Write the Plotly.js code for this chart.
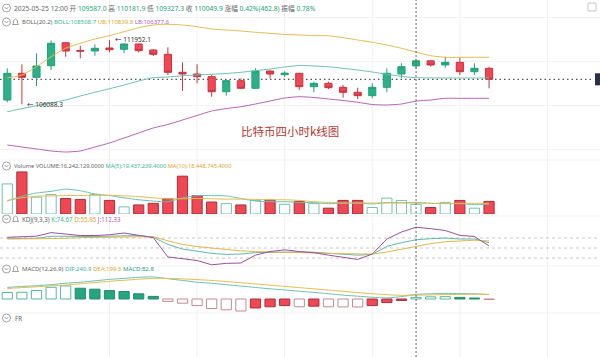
<!DOCTYPE html>
<html><head><meta charset="utf-8">
<script src="https://cdn.plot.ly/plotly-3.0.1.min.js"></script>
<style>html,body{margin:0;padding:0;background:#fff}#c{width:600px;height:357px}</style>
</head><body><div id="c"></div>
<script>
const times = ['2025-05-20 20:00','2025-05-21 00:00','2025-05-21 04:00','2025-05-21 08:00','2025-05-21 12:00','2025-05-21 16:00','2025-05-21 20:00',
'2025-05-22 00:00','2025-05-22 04:00','2025-05-22 08:00','2025-05-22 12:00','2025-05-22 16:00','2025-05-22 20:00',
'2025-05-23 00:00','2025-05-23 04:00','2025-05-23 08:00','2025-05-23 12:00','2025-05-23 16:00','2025-05-23 20:00',
'2025-05-24 00:00','2025-05-24 04:00','2025-05-24 08:00','2025-05-24 12:00','2025-05-24 16:00','2025-05-24 20:00',
'2025-05-25 00:00','2025-05-25 04:00','2025-05-25 08:00','2025-05-25 12:00','2025-05-25 16:00','2025-05-25 20:00',
'2025-05-26 00:00','2025-05-26 04:00','2025-05-26 08:00'];
const open  = [106481,108915,108551,109608,111706,111000,110949,111223,111104,111587,111040,110648,109007,108852,108606,107238,108241,107548,109125,108790,108915,107694,108004,107640,107183,106873,107640,108852,109587.0,110050,109672,109917,109061,109372];
const high  = [109372,109736,110739,111900,111750,111432,111560,111952.1,111650,111620,111131,111286,109919,109736,108761,108305,108460,109372,109200,109100,108950,108150,108150,107850,107602,108004,109372,109827,110181.9,110130,110429,110338,109827,109518];
const low   = [106271,106088.3,107757,109216,110429,110283,110520,110830,110740,110830,110493,108761,107301,108004,106782,106873,107484,107484,108460,108600,107400,107183,107484,106690,106572,106636,107183,108460,109327.3,109520,109426,108761,108761,107548];
const close = [108915,108551,109581,111651,110949,110940,111195,111068,111587,110976,110648,109007,108852,108606,107238,108241,107548,109125,108852,108930,107694,108004,107602,107183,106873,107640,108915,109518,110049.9,109672,109917,109061,109372,108368];
const bollUB = [108487,108761,109518,110430,111196,111652,112044,112345,112709,113074,113320,113384,113320,113165,112955,112864,112773,112655,112563,112454,112408,112345,112345,112162,111952,111743,111496,111196,110839.8,110521,110375,110375,110375,110375];
const bollMB = [105414,105688,105961,106207,106481,106846,107183,107511,107849,108214,108514,108578,108697,108761,108825,108897,109007,109153,109308,109490,109627,109581,109518,109372,109217,109034,108825,108640,108508.7,108500,108490,108490,108490,108490];
const bollLB = [102377,102195,102013,101830,101739,101830,102195,102560,103016,103472,103928,104247,104657,105068,105478,105706,105870,106116,106390,106663,106782,106709,106572,106435,106271,106071,106025,106116,106377.6,106481,106636,106636,106636,106636];
const volume = [50.35e6,70.38e6,28.15e6,32.48e6,25.99e6,24.36e6,32.48e6,22.74e6,11.91e6,15.16e6,17.87e6,25.45e6,63.34e6,30.86e6,20.03e6,17.32e6,15.16e6,22.74e6,23.28e6,16.24e6,21.11e6,17.32e6,9.75e6,22.74e6,22.74e6,10.83e6,26.53e6,22.74e6,16242129,10.83e6,19.49e6,22.74e6,9.75e6,21.11e6];
const volMA5 = [21.66e6,29.78e6,35.19e6,37.9e6,41.69e6,38.98e6,33.57e6,30.86e6,27.07e6,23.82e6,21.66e6,20.57e6,27.07e6,30.86e6,30.86e6,30.32e6,25.99e6,21.66e6,20.57e6,20.57e6,19.49e6,18.95e6,17.32e6,17.87e6,18.41e6,16.78e6,18.95e6,18.95e6,19437239.4,17.87e6,17.32e6,17.32e6,15.7e6,16.24e6];
const volMA10 = [22.74e6,27.07e6,29.78e6,30.32e6,30.86e6,30.86e6,31.4e6,31.4e6,30.32e6,29.24e6,27.07e6,25.45e6,25.45e6,25.99e6,25.45e6,24.9e6,24.9e6,24.36e6,23.82e6,23.82e6,22.74e6,20.57e6,19.49e6,18.41e6,18.41e6,18.41e6,18.41e6,18.41e6,18448745.4,17.87e6,17.87e6,17.87e6,17.87e6,17.87e6];
const kdjK = [78.9,78.9,78.9,85.4,84.3,83.2,84.3,85.4,87.5,87.5,82.1,60.7,46.8,39.3,33.9,30.7,31.8,36.1,37.1,39.3,38.2,37.1,33.9,31.8,28.6,30.7,55,66,74.67,78,80,77,77,66];
const kdjD = [76.8,76.8,76.8,77.9,78.9,81.1,82.1,82.1,83.2,84.3,84.3,71.4,60.7,54.3,50,44.6,41.4,39.3,37.1,37.1,36.1,36.1,33.9,32.9,31.8,31.8,38,47,55.85,63,68.8,71.5,73.3,70.9];
const kdjJ = [82.1,83.2,85.4,96.1,91.8,87.5,87.5,89.6,95,87.5,81.1,23.2,17.9,12.5,-0.4,3.9,5,28.6,39.3,44.6,39.3,36.1,28.6,23.2,15.7,31.8,77,98,112.33,108,102.4,88,84.4,56.2];
const macdDIF = [600,655,692,746,819,874,946,1019,1074,1128,1147,1056,965,874,819,746,673,600,528,473,400,346,273,200,146,91,60,125,240.9,270,290,280,270,230];
const macdDEA = [546,592,637,683,728,792,855,919,974,1028,1074,1069,1047,1010,965,910,846,783,719,655,592,528,464,400,330,275,225,190,199.5,213.6,228.9,239,245,242];
const macdHist = [340,350,440,610,680,560,510,440,390,270,135,-125,-218,-343,-498,-561,-624,-467,-405,-343,-405,-374,-405,-411,-417,-343,-187,-75,82.8,113,122,82,50,-24];
const hoverIdx = 28;

const W = 600, H = 357;
const P = x => x / W, Q = y => 1 - y / H;
const GREEN = '#26a57f', RED = '#ef4753';
const FONT = '"Noto Sans", "Noto Sans CJK SC", sans-serif';

const upVol = close.map((c, i) => c >= open[i]);
const histStyle = macdHist.map((v, i) => {
  const prev = i === 0 ? -Infinity : macdHist[i - 1];
  if (v >= 0) return v >= prev ? ['#ffffff', '#55b89a'] : [GREEN, '#1f8f6c'];
  return v < prev ? ['#ffffff', '#c48a8f'] : [RED, '#a8303a'];
});

const traces = [
  {type:'candlestick', x:times, open:open, high:high, low:low, close:close, xaxis:'x', yaxis:'y',
   increasing:{line:{color:'#22a07a', width:1}, fillcolor:'#2bb088'},
   decreasing:{line:{color:'#c8343f', width:1}, fillcolor:RED}, whiskerwidth:0, hoverinfo:'skip'},
  {type:'scatter', mode:'lines', x:times, y:bollUB, line:{color:'#e6bb55', width:1, shape:'spline', smoothing:0.6}, xaxis:'x', yaxis:'y'},
  {type:'scatter', mode:'lines', x:times, y:bollMB, line:{color:'#6cc2b0', width:1, shape:'spline', smoothing:0.6}, xaxis:'x', yaxis:'y'},
  {type:'scatter', mode:'lines', x:times, y:bollLB, line:{color:'#b862bd', width:1, shape:'spline', smoothing:0.6}, xaxis:'x', yaxis:'y'},
  {type:'bar', x:times, y:volume, width:0.7, xaxis:'x', yaxis:'y2',
   marker:{color:upVol.map(u => u ? '#ffffff' : RED), line:{color:upVol.map(u => u ? '#72c2aa' : '#a8303a'), width:1}}},
  {type:'scatter', mode:'lines', x:times, y:volMA5, line:{color:'#6cc2b0', width:1, shape:'spline', smoothing:0.6}, xaxis:'x', yaxis:'y2'},
  {type:'scatter', mode:'lines', x:times, y:volMA10, line:{color:'#e6bb55', width:1, shape:'spline', smoothing:0.6}, xaxis:'x', yaxis:'y2'},
  {type:'scatter', mode:'lines', x:times, y:kdjK, line:{color:'#5fb9a8', width:1}, xaxis:'x', yaxis:'y3'},
  {type:'scatter', mode:'lines', x:times, y:kdjD, line:{color:'#e2b651', width:1}, xaxis:'x', yaxis:'y3'},
  {type:'scatter', mode:'lines', x:times, y:kdjJ, line:{color:'#9c4f9f', width:1}, xaxis:'x', yaxis:'y3'},
  {type:'bar', x:times, y:macdHist, width:0.7, xaxis:'x', yaxis:'y4',
   marker:{color:histStyle.map(s => s[0]), line:{color:histStyle.map(s => s[1]), width:1}}},
  {type:'scatter', mode:'lines', x:times, y:macdDIF, line:{color:'#6cc2b0', width:1, shape:'spline', smoothing:0.6}, xaxis:'x', yaxis:'y4'},
  {type:'scatter', mode:'lines', x:times, y:macdDEA, line:{color:'#e6bb55', width:1, shape:'spline', smoothing:0.6}, xaxis:'x', yaxis:'y4'}
];

const hideAx = {showticklabels:false, zeroline:false, showline:false, showgrid:false, fixedrange:true};
const shapes = [];
const annotations = [];

[7, 13, 19, 25, 31, 37].forEach(v => shapes.push({type:'line', xref:'x', yref:'paper', x0:v, x1:v, y0:0, y1:1, line:{color:'#f1f1f1', width:1}, layer:'below'}));
[160, 216, 266, 313].forEach(y => shapes.push({type:'line', xref:'paper', yref:'paper', x0:0, x1:1, y0:Q(y), y1:Q(y), line:{color:'#f3f3f3', width:1}, layer:'below'}));
[80, 50, 20].forEach(v => shapes.push({type:'line', xref:'paper', yref:'y3', x0:0, x1:1, y0:v, y1:v, line:{color:'#c8c8c8', width:1, dash:'3px,3px'}, layer:'below'}));
const lastClose = close[close.length - 1];
shapes.push({type:'line', xref:'paper', yref:'y', x0:0, x1:P(594), y0:lastClose, y1:lastClose, line:{color:'#555', width:1.2, dash:'1.5px,3px'}, layer:'below'});
shapes.push({type:'rect', xref:'paper', yref:'y', x0:P(595), x1:1, y0:lastClose - 550, y1:lastClose + 550, fillcolor:'#2b3247', line:{width:0}});
shapes.push({type:'line', xref:'x', yref:'paper', x0:hoverIdx, x1:hoverIdx, y0:0, y1:1, line:{color:'#666', width:1, dash:'2px,2px'}});
shapes.push({type:'rect', xref:'paper', yref:'paper', x0:P(588), x1:P(596), y0:Q(11), y1:Q(3), line:{color:'#bbb', width:0.8}});

function icon(y, bell) {
  shapes.push({type:'circle', xref:'paper', yref:'paper', x0:P(2.5), x1:P(10.5), y0:Q(y+4), y1:Q(y-4), line:{color:'#8a8a8a', width:0.8}});
  shapes.push({type:'path', xref:'paper', yref:'paper', path:`M${P(4.6)},${Q(y-1)} L${P(6.5)},${Q(y+1)} L${P(8.4)},${Q(y-1)}`, line:{color:'#8a8a8a', width:0.8}});
  if (bell) {
    shapes.push({type:'path', xref:'paper', yref:'paper',
      path:`M${P(12.5)},${Q(y+2.5)} L${P(13.5)},${Q(y+1)} L${P(13.5)},${Q(y-1.5)} Q${P(15.5)},${Q(y-4.5)} ${P(17.5)},${Q(y-1.5)} L${P(17.5)},${Q(y+1)} L${P(18.5)},${Q(y+2.5)} Z`,
      line:{color:'#8a8a8a', width:0.8}});
  }
}
function hdr(x, y, html, size) {
  annotations.push({xref:'paper', yref:'paper', x:P(x), y:Q(y), xanchor:'left', yanchor:'middle', showarrow:false,
    text:html, font:{family:FONT, size:size || 6.2, color:'#666'}});
}
const g = '#666', te = '#22a27c', tc = '#3db39a', yl = '#e0a52c', pu = '#b25cb8';
const s = (c, t) => `<span style="color:${c}">${t}</span>`;

icon(8, false);
hdr(12, 8, s(g,'2025-05-25 12:00 开 ') + s(te,'109587.0') + s(g,' 高 ') + s(te,'110181.9') + s(g,' 低 ') + s(te,'109327.3') + s(g,' 收 ') + s(te,'110049.9') + s(g,' 涨幅 ') + s(te,'0.42%(462.8)') + s(g,' 振幅 ') + s(te,'0.78%'), 6.7);
icon(22, true);
hdr(20, 22, s(g,'BOLL(20,2)') + ' ' + s(tc,'BOLL:108508.7') + ' ' + s(yl,'UB:110839.8') + ' ' + s(pu,'LB:106377.6'), 6.0);
icon(166, false);
hdr(12, 166, s(g,'Volume VOLUME:16,242,129.0000') + ' ' + s(tc,'MA(5):19,437,239.4000') + ' ' + s(yl,'MA(10):18,448,745.4000'), 5.7);
icon(219, true);
hdr(20, 219, s(g,'KDJ(9,3,3)') + ' ' + s(tc,'K:74.67') + ' ' + s(yl,'D:55.85') + ' ' + s(pu,'J:112.33'), 6.2);
icon(269, true);
hdr(20, 269, s(g,'MACD(12,26,9)') + ' ' + s(tc,'DIF:240.9') + ' ' + s(yl,'DEA:199.5') + ' ' + s(te,'MACD:82.8'), 6.0);
icon(318, false);
hdr(13, 318, s(g,'FR'));

const hiIdx = high.indexOf(Math.max(...high));
const loIdx = low.indexOf(Math.min(...low));
annotations.push({xref:'x', yref:'y', x:hiIdx, y:high[hiIdx], xanchor:'left', yanchor:'middle', xshift:4, yshift:1, showarrow:false,
  text:'← ' + high[hiIdx].toFixed(1), font:{family:FONT, size:6.5, color:'#333'}});
annotations.push({xref:'x', yref:'y', x:loIdx, y:low[loIdx], xanchor:'left', yanchor:'middle', xshift:3, showarrow:false,
  text:'← ' + low[loIdx].toFixed(1), font:{family:FONT, size:6.5, color:'#333'}});
annotations.push({xref:'paper', yref:'paper', x:P(290), y:Q(131), xanchor:'center', yanchor:'middle', showarrow:false,
  text:'比特币四小时k线图', font:{family:'"Noto Sans CJK SC", sans-serif', size:11.5, color:'#b23a30'}});

const layout = {
  width:W, height:H, margin:{l:0, r:0, t:0, b:0}, paper_bgcolor:'#fff', plot_bgcolor:'rgba(0,0,0,0)',
  showlegend:false, bargap:0.3, hovermode:false,
  xaxis:Object.assign({}, hideAx, {type:'category', range:[-0.5, 40.6], rangeslider:{visible:false}, domain:[0,1]}),
  yaxis:Object.assign({}, hideAx, {domain:[Q(157), 1], range:[101283, 115600], showgrid:true, gridcolor:'#f3f3f3', tickvals:[102000,106000,110000,114000]}),
  yaxis2:Object.assign({}, hideAx, {domain:[Q(214), Q(168)], range:[0, 77e6], anchor:'x'}),
  yaxis3:Object.assign({}, hideAx, {domain:[Q(270), Q(222)], range:[-16, 128], anchor:'x'}),
  yaxis4:Object.assign({}, hideAx, {domain:[Q(316), Q(274)], range:[-884, 1300], anchor:'x'}),
  shapes:shapes, annotations:annotations
};
Plotly.newPlot('c', traces, layout, {staticPlot:true, displayModeBar:false});
</script></body></html>
